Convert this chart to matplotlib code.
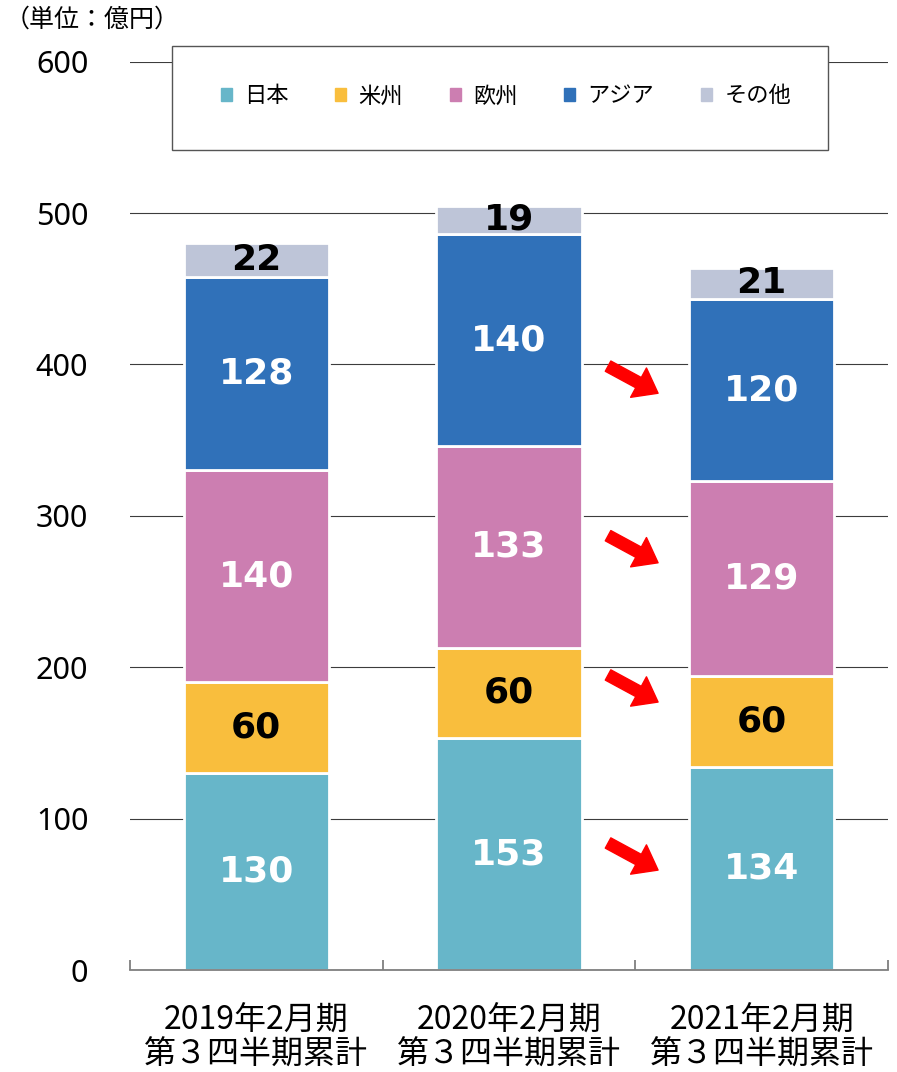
import matplotlib.pyplot as plt
import matplotlib.patches as patches
import numpy as np

plt.rcParams['font.family'] = ['Noto Sans CJK JP', 'DejaVu Sans']

# データ（単位：億円）
categories = ['2019年2月期\n第３四半期累計', '2020年2月期\n第３四半期累計', '2021年2月期\n第３四半期累計']
regions = ['日本', '米州', '欧州', 'アジア', 'その他']
japan = [130, 153, 134]
americas = [60, 60, 60]
europe = [140, 133, 129]
asia = [128, 140, 120]
others = [22, 19, 21]
series = [japan, americas, europe, asia, others]

colors = ['#67B6C9', '#F9BE3D', '#CC7EB1', '#3071B9', '#BEC5D8']
label_colors = ['white', 'black', 'white', 'white', 'black']
y_ticks = [0, 100, 200, 300, 400, 500, 600]

# 矢印（2020→2021）の先端の高さ
arrow_tips = [381, 269, 177, 66]

fig = plt.figure(figsize=(8.97, 10.72), dpi=100)
ax = fig.add_axes([130 / 897, 102 / 1072, 758 / 897, 908.3 / 1072])

x = np.arange(len(categories))
bottom = np.zeros(len(categories))
for vals, col, lcol in zip(series, colors, label_colors):
    bars = ax.bar(x, vals, width=0.575, bottom=bottom, color=col,
                  edgecolor='white', linewidth=2, zorder=3)
    for xi, b, v in zip(x, bottom, vals):
        ax.text(xi, b + v / 2, str(v), ha='center', va='center',
                color=lcol, fontsize=26, fontweight='bold',
                family='DejaVu Sans', zorder=4)
    bottom += np.array(vals)

ax.set_xlim(-0.5, 2.5)
ax.set_ylim(0, 600)
ax.set_yticks(y_ticks)
ax.set_yticklabels([str(t) for t in y_ticks], family='Noto Sans', fontsize=22)
ax.tick_params(axis='y', length=0, pad=30)
ax.yaxis.grid(True, color='#3c3c3c', linewidth=0.8, zorder=0)
ax.set_axisbelow(True)

ax.set_xticks(x)
ax.set_xticklabels(categories, fontsize=23, linespacing=1.1)
ax.tick_params(axis='x', length=0, pad=25)
ax.set_xticks([-0.5, 0.5, 1.5, 2.5], minor=True)
ax.tick_params(axis='x', which='minor', direction='in', length=7,
               width=1.3, color='#7f7f7f')

for s in ['top', 'right', 'left']:
    ax.spines[s].set_visible(False)
ax.spines['bottom'].set_color('#7f7f7f')
ax.spines['bottom'].set_linewidth(1.3)
ax.spines['bottom'].set_zorder(5)

# 矢印
for tip in arrow_tips:
    ax.annotate('', xy=(1.59, tip), xycoords='data',
                xytext=(-36, 19.5), textcoords='offset points',
                arrowprops=dict(arrowstyle='simple,head_length=0.8,head_width=1.2,tail_width=0.42',
                                color='#FF0000', shrinkA=0, shrinkB=0,
                                mutation_scale=20),
                zorder=6)

# 凡例
frame = patches.Rectangle((172 / 897, 1 - 150 / 1072), 656 / 897, 104 / 1072,
                          transform=fig.transFigure, facecolor='white',
                          edgecolor='#555555', linewidth=1.0, zorder=10)
fig.add_artist(frame)
handles = [patches.Patch(color=c) for c in colors]
leg = fig.legend(handles, regions, loc='center',
                 bbox_to_anchor=(506 / 897, 1 - 96 / 1072), ncol=5,
                 frameon=False, fontsize=16, handlelength=0.5,
                 handleheight=0.5, handletextpad=0.55, columnspacing=2.1)
leg.set_zorder(11)

fig.text(5 / 897, 1 - 20 / 1072, '（単位：億円）', fontsize=18,
         ha='left', va='center')

fig.savefig('out.png', dpi=100)
